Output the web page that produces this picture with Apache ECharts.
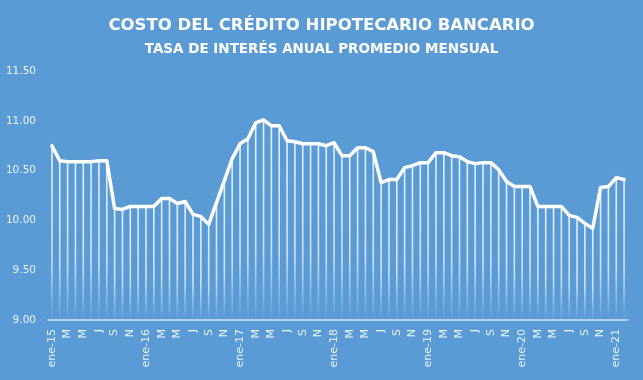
<!DOCTYPE html>
<html>
<head>
<meta charset="utf-8">
<script src="https://cdn.jsdelivr.net/npm/echarts@6/dist/echarts.min.js"></script>
<style>
html,body{margin:0;padding:0;background:#5b9bd5;}
#chart{width:643px;height:380px;}
</style>
</head>
<body>
<div id="chart"></div>
<script>
// Month labels (ene-15 .. feb-21)
const monthShort = ["ene","F","M","A","M","J","J","A","S","O","N","D"];
const years = ["15","16","17","18","19","20","21"];
const categories = [];
years.forEach(function(y){
  monthShort.forEach(function(m, i){
    if (categories.length < 74) categories.push(i === 0 ? "ene-" + y : m);
  });
});

const tasa2015 = [10.75,10.60,10.59,10.59,10.59,10.59,10.60,10.60,10.12,10.11,10.14,10.14];
const tasa2016 = [10.14,10.14,10.22,10.22,10.17,10.19,10.06,10.04,9.96,10.18,10.40,10.62];
const tasa2017 = [10.77,10.82,10.98,11.01,10.95,10.95,10.80,10.79,10.77,10.77,10.77,10.75];
const tasa2018 = [10.78,10.65,10.65,10.73,10.73,10.69,10.38,10.41,10.41,10.53,10.55,10.58];
const tasa2019 = [10.58,10.68,10.68,10.65,10.64,10.59,10.57,10.58,10.58,10.51,10.39,10.34];
const tasa2020 = [10.34,10.34,10.14,10.14,10.14,10.14,10.05,10.03,9.97,9.92,10.33,10.34];
const tasa2021 = [10.43,10.41];
const tasa = [].concat(tasa2015,tasa2016,tasa2017,tasa2018,tasa2019,tasa2020,tasa2021);

const yTicks = {min: 9.0, max: 11.5, interval: 0.5};

const chart = echarts.init(document.getElementById('chart'));
chart.setOption({
  backgroundColor: '#5b9bd5',
  animation: false,
  title: [{
    text: 'COSTO DEL CRÉDITO HIPOTECARIO BANCARIO',
    left: 'center', top: 12,
    textStyle: {color: '#ffffff', fontSize: 16.5, fontWeight: 'bold', fontFamily: 'DejaVu Sans'}
  },{
    text: 'TASA DE INTERÉS ANUAL PROMEDIO MENSUAL',
    left: 'center', top: 37,
    textStyle: {color: '#ffffff', fontSize: 13.5, fontWeight: 'bold', fontFamily: 'DejaVu Sans'}
  }],
  grid: {left: 48, right: 15, top: 71, bottom: 60},
  xAxis: {
    type: 'category',
    data: categories,
    boundaryGap: true,
    axisLine: {lineStyle: {color: 'rgba(255,255,255,0.7)', width: 1.5}},
    axisTick: {show: false},
    axisLabel: {
      interval: 1, rotate: 90, color: 'rgba(255,255,255,0.88)',
      fontSize: 11, fontFamily: 'DejaVu Sans', margin: 9
    },
    splitLine: {show: false}
  },
  yAxis: {
    type: 'value',
    min: yTicks.min, max: yTicks.max, interval: yTicks.interval,
    axisLine: {show: false},
    axisTick: {show: false},
    splitLine: {show: false},
    axisLabel: {
      color: 'rgba(255,255,255,0.88)', fontSize: 10.5, fontFamily: 'DejaVu Sans', margin: 12,
      formatter: function(v){ return v.toFixed(2); }
    }
  },
  series: [{
    type: 'bar',
    data: tasa,
    barWidth: 1.6,
    silent: true,
    itemStyle: {
      color: new echarts.graphic.LinearGradient(0,0,0,1,[
        {offset: 0, color: 'rgba(255,255,255,0.85)'},
        {offset: 0.65, color: 'rgba(255,255,255,0.7)'},
        {offset: 1, color: 'rgba(255,255,255,0.0)'}
      ])
    },
    z: 1
  },{
    type: 'line',
    data: tasa,
    showSymbol: false,
    lineStyle: {color: '#ffffff', width: 3.5, join: 'round', cap: 'round'},
    z: 3
  }]
});
</script>
</body>
</html>
